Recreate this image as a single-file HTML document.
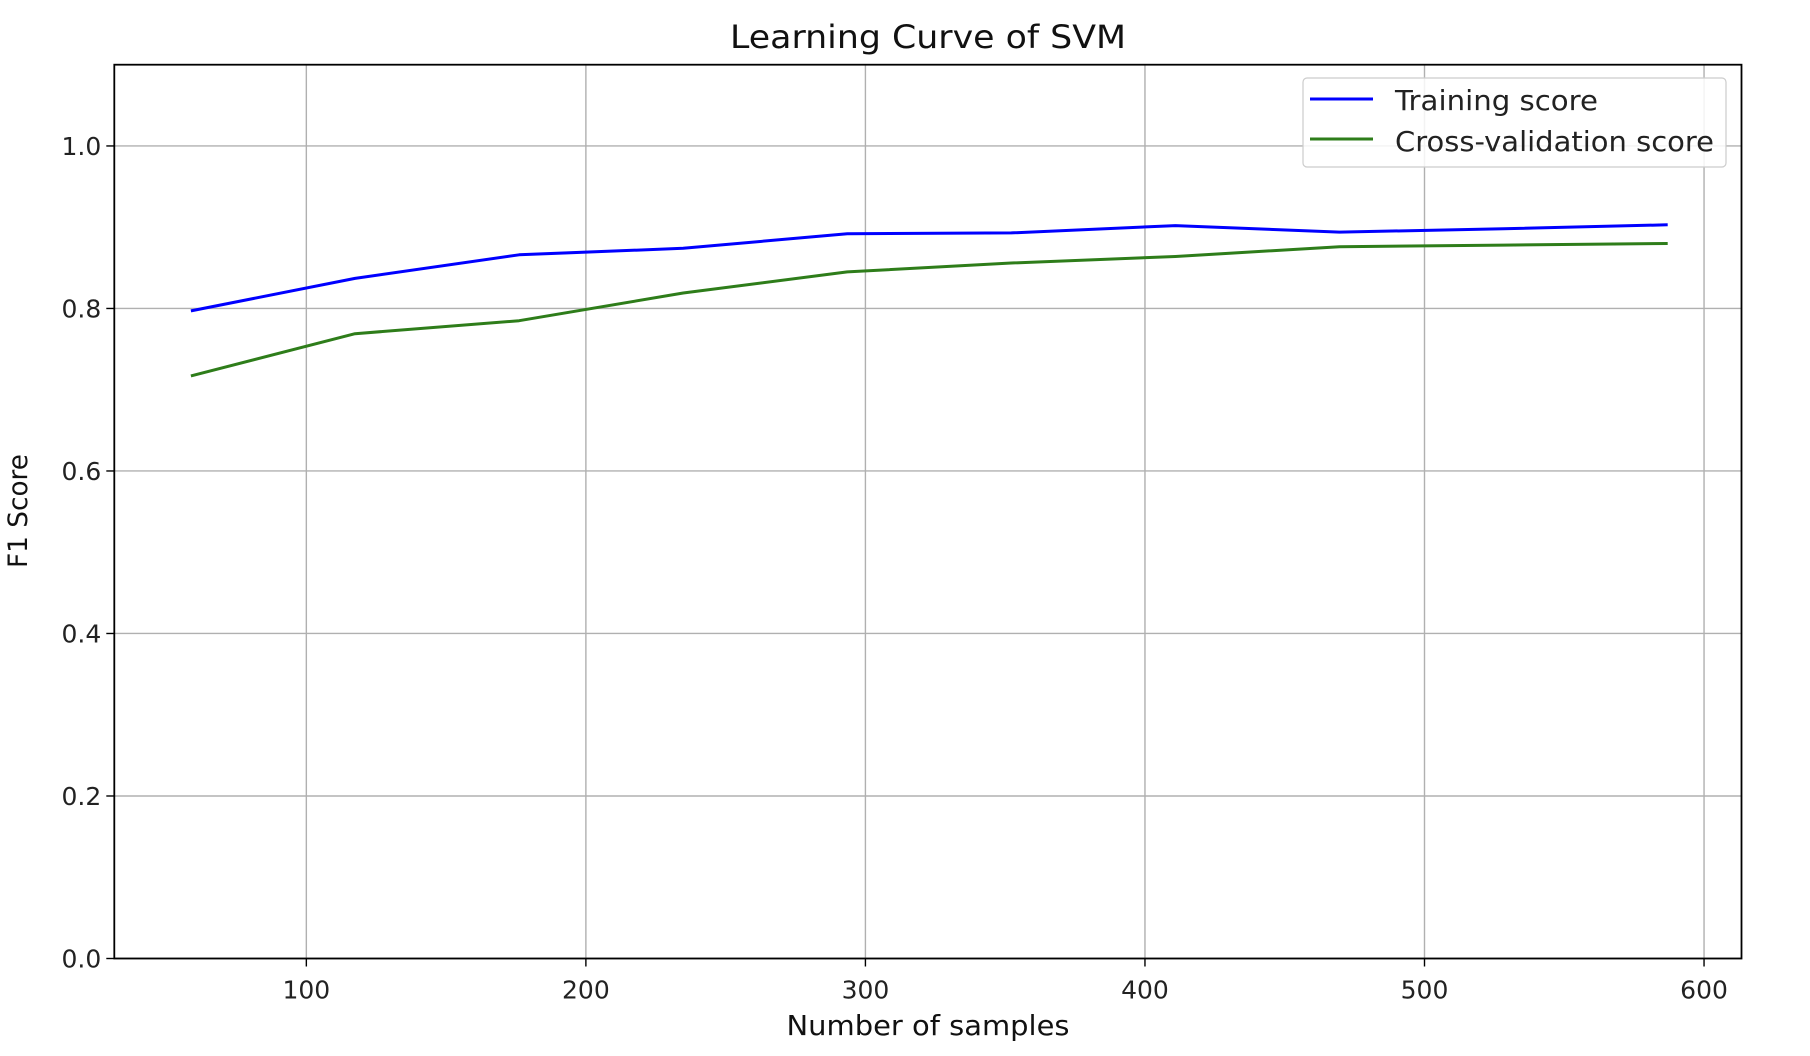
<!DOCTYPE html>
<html><head><meta charset="utf-8"><style>
html,body{margin:0;padding:0;background:#fff;}
svg{display:block;font-family:"DejaVu Sans","Liberation Sans",sans-serif;}
</style></head><body>
<svg id="chart" width="1810" height="1056" viewBox="0 0 1810 1056">
<rect width="1810" height="1056" fill="#fff"/>
<g id="grid"></g>
<g id="series"></g>
<rect x="114.3" y="64.7" width="1627.2" height="893.8" fill="none" stroke="#000" stroke-width="1.8"/>
<g id="ticks"></g>
<text x="928" y="48" font-size="32" text-anchor="middle" fill="#111" textLength="396" lengthAdjust="spacingAndGlyphs">Learning Curve of SVM</text>
<text x="928" y="1035" font-size="28" text-anchor="middle" fill="#111" textLength="283" lengthAdjust="spacingAndGlyphs">Number of samples</text>
<text x="0" y="0" font-size="27" text-anchor="middle" fill="#111" textLength="114" lengthAdjust="spacingAndGlyphs" transform="translate(27,511) rotate(-90)">F1 Score</text>
<g>
<rect x="1303" y="78" width="423" height="89" rx="4" fill="#fff" fill-opacity="0.85" stroke="#ccc" stroke-width="1.2"/>
<line x1="1310" y1="99" x2="1373" y2="99" stroke="#0000ff" stroke-width="3"/>
<text x="1395" y="110" font-size="28" fill="#222" textLength="203" lengthAdjust="spacingAndGlyphs">Training score</text>
<line x1="1310" y1="139" x2="1373" y2="139" stroke="#2e7d1a" stroke-width="3"/>
<text x="1395" y="151" font-size="28" fill="#222" textLength="319" lengthAdjust="spacingAndGlyphs">Cross-validation score</text>
</g>
</svg>
<script>
const sampleSizes = [58.7, 117.4, 176.1, 234.8, 293.5, 352.2, 410.9, 469.6, 528.3, 587];
const trainScores = [0.797, 0.837, 0.866, 0.874, 0.892, 0.893, 0.902, 0.894, 0.898, 0.903];
const cvScores = [0.717, 0.769, 0.785, 0.819, 0.845, 0.856, 0.864, 0.876, 0.878, 0.880];
const xTicks = [100, 200, 300, 400, 500, 600];
const yTicks = [0.0, 0.2, 0.4, 0.6, 0.8, 1.0];
const xMin = 31.3, xMax = 613.4, yMin = 0, yMax = 1.1;
const L = 114.3, R = 1741.5, T = 64.7, B = 958.5;
const NS = 'http://www.w3.org/2000/svg';
function sx(v){return L + (v - xMin) / (xMax - xMin) * (R - L);}
function sy(v){return B - (v - yMin) / (yMax - yMin) * (B - T);}
function mk(tag, attrs, parent){const e=document.createElementNS(NS,tag);for(const k in attrs)e.setAttribute(k,attrs[k]);parent.appendChild(e);return e;}
const grid=document.getElementById('grid'), ticks=document.getElementById('ticks'), series=document.getElementById('series');
xTicks.forEach(t=>{
  const x=sx(t);
  const g=mk('line',{x1:x,y1:T,x2:x,y2:B,stroke:'#b0b0b0','stroke-width':1.4},grid);
  
  
  const tk=mk('line',{x1:x,y1:B,x2:x,y2:B+8,stroke:'#000','stroke-width':1.4},ticks);
  
  
  const lb=mk('text',{x:x,y:B+40,'font-size':25,'text-anchor':'middle',fill:'#222'},ticks);
  lb.textContent=String(t);
  
  
});
yTicks.forEach(t=>{
  const y=sy(t);
  const g=mk('line',{x1:L,y1:y,x2:R,y2:y,stroke:'#b0b0b0','stroke-width':1.4},grid);
  
  
  const tk=mk('line',{x1:L-8,y1:y,x2:L,y2:y,stroke:'#000','stroke-width':1.4},ticks);
  
  
  const lb=mk('text',{x:L-13,y:y+9,'font-size':25,'text-anchor':'end',fill:'#222'},ticks);
  lb.textContent=t.toFixed(1);
  
  
});
function line(vals,color,name){
  const pts=sampleSizes.map((x,i)=>sx(x).toFixed(1)+','+sy(vals[i]).toFixed(1)).join(' ');
  const p=mk('polyline',{points:pts,fill:'none',stroke:color,'stroke-width':3,'stroke-linejoin':'round'},series);
  
  
}
line(trainScores,'#0000ff','training-score-line');
line(cvScores,'#2e7d1a','cv-score-line');
</script>
</body></html>
